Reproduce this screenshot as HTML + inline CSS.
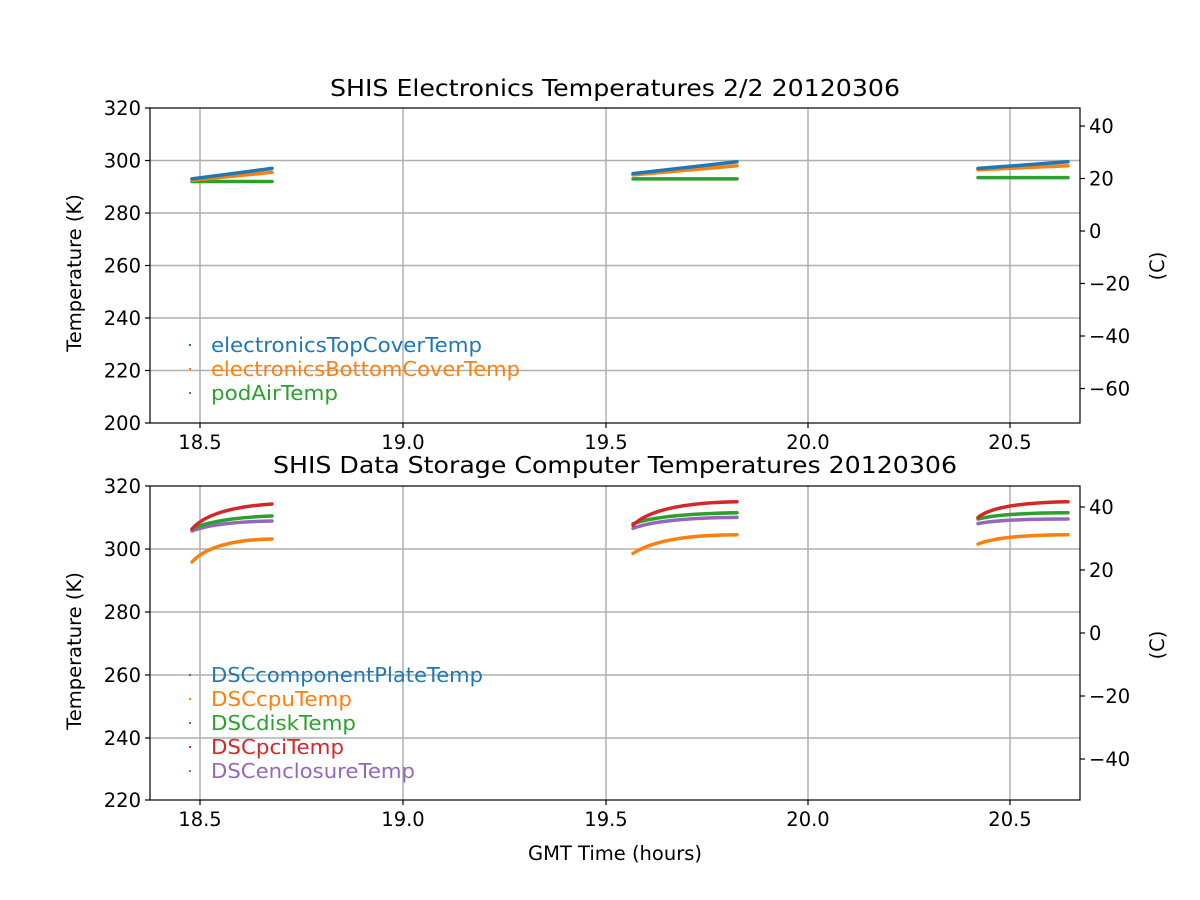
<!DOCTYPE html>
<html><head><style>body{margin:0;background:#fff}svg{display:block}text{font-family:"DejaVu Sans","Liberation Sans",sans-serif}</style></head><body>
<svg width="1200" height="900" viewBox="0 0 1200 900" xmlns="http://www.w3.org/2000/svg">
<rect width="1200" height="900" fill="#fff"/>
<g stroke="#b0b0b0" stroke-width="1.5">
<line x1="200" y1="108" x2="200" y2="423"/><line x1="403" y1="108" x2="403" y2="423"/><line x1="606" y1="108" x2="606" y2="423"/><line x1="808" y1="108" x2="808" y2="423"/><line x1="1010" y1="108" x2="1010" y2="423"/>
<line x1="150" y1="160.5" x2="1080" y2="160.5"/><line x1="150" y1="213" x2="1080" y2="213"/><line x1="150" y1="265.5" x2="1080" y2="265.5"/><line x1="150" y1="318" x2="1080" y2="318"/><line x1="150" y1="370.5" x2="1080" y2="370.5"/>
<line x1="200" y1="486" x2="200" y2="800"/><line x1="403" y1="486" x2="403" y2="800"/><line x1="606" y1="486" x2="606" y2="800"/><line x1="808" y1="486" x2="808" y2="800"/><line x1="1010" y1="486" x2="1010" y2="800"/>
<line x1="150" y1="549" x2="1080" y2="549"/><line x1="150" y1="612" x2="1080" y2="612"/><line x1="150" y1="675" x2="1080" y2="675"/><line x1="150" y1="738" x2="1080" y2="738"/>
</g>
<g fill="none" stroke-width="3.5" stroke-linecap="round">
<path d="M192 181.5 L272 181.5" stroke="#2ca02c"/>
<path d="M192 180.2 L272 172.3" stroke="#ff7f0e"/>
<path d="M192 178.9 L272 168.4" stroke="#1f77b4"/>
<path d="M633 178.9 L737 178.9" stroke="#2ca02c"/>
<path d="M633 174.9 L737 165.8" stroke="#ff7f0e"/>
<path d="M633 173.6 L737 161.8" stroke="#1f77b4"/>
<path d="M978 177.6 L1068 177.6" stroke="#2ca02c"/>
<path d="M978 169.7 L1068 165.8" stroke="#ff7f0e"/>
<path d="M978 168.4 L1068 161.8" stroke="#1f77b4"/>
<path d="M192 562 Q212 540 272 539" stroke="#ff7f0e"/>
<path d="M192 531 Q215 522 272 521" stroke="#9467bd"/>
<path d="M192 529 Q215 518 272 516" stroke="#2ca02c"/>
<path d="M192 529 Q210 508 272 504" stroke="#d62728"/>
<path d="M633 553.5 Q660 535 737 534.7" stroke="#ff7f0e"/>
<path d="M633 528.4 Q660 518 737 517.4" stroke="#9467bd"/>
<path d="M633 523.7 Q660 514 737 512.7" stroke="#2ca02c"/>
<path d="M633 525.3 Q655 503 737 501.7" stroke="#d62728"/>
<path d="M978 544.1 Q1000 535 1068 534.7" stroke="#ff7f0e"/>
<path d="M978 523.7 Q1000 519 1068 519" stroke="#9467bd"/>
<path d="M978 519 Q1000 513 1068 512.7" stroke="#2ca02c"/>
<path d="M978 517.4 Q995 503 1068 501.7" stroke="#d62728"/>
</g>
<g fill="none" stroke="#000" stroke-width="1.2">
<rect x="150" y="108" width="930" height="315"/>
<rect x="150" y="486" width="930" height="314"/>
</g>
<g stroke="#000" stroke-width="1.2">
<line x1="145" y1="108" x2="150" y2="108"/><line x1="145" y1="160.5" x2="150" y2="160.5"/><line x1="145" y1="213" x2="150" y2="213"/><line x1="145" y1="265.5" x2="150" y2="265.5"/><line x1="145" y1="318" x2="150" y2="318"/><line x1="145" y1="370.5" x2="150" y2="370.5"/><line x1="145" y1="423" x2="150" y2="423"/>
<line x1="200" y1="423" x2="200" y2="428"/><line x1="403" y1="423" x2="403" y2="428"/><line x1="606" y1="423" x2="606" y2="428"/><line x1="808" y1="423" x2="808" y2="428"/><line x1="1010" y1="423" x2="1010" y2="428"/>
<line x1="1080" y1="126" x2="1085" y2="126"/><line x1="1080" y1="178.5" x2="1085" y2="178.5"/><line x1="1080" y1="231" x2="1085" y2="231"/><line x1="1080" y1="283.5" x2="1085" y2="283.5"/><line x1="1080" y1="336" x2="1085" y2="336"/><line x1="1080" y1="388.5" x2="1085" y2="388.5"/>
<line x1="145" y1="486" x2="150" y2="486"/><line x1="145" y1="549" x2="150" y2="549"/><line x1="145" y1="612" x2="150" y2="612"/><line x1="145" y1="675" x2="150" y2="675"/><line x1="145" y1="738" x2="150" y2="738"/><line x1="145" y1="800" x2="150" y2="800"/>
<line x1="200" y1="800" x2="200" y2="805"/><line x1="403" y1="800" x2="403" y2="805"/><line x1="606" y1="800" x2="606" y2="805"/><line x1="808" y1="800" x2="808" y2="805"/><line x1="1010" y1="800" x2="1010" y2="805"/>
<line x1="1080" y1="507" x2="1085" y2="507"/><line x1="1080" y1="570" x2="1085" y2="570"/><line x1="1080" y1="633" x2="1085" y2="633"/><line x1="1080" y1="696" x2="1085" y2="696"/><line x1="1080" y1="759" x2="1085" y2="759"/>
</g>
<g font-size="19.5" fill="#000">
<g text-anchor="end">
<text x="141" y="115">320</text><text x="141" y="167.5">300</text><text x="141" y="220">280</text><text x="141" y="272.5">260</text><text x="141" y="325">240</text><text x="141" y="377.5">220</text><text x="141" y="430">200</text>
<text x="141" y="493">320</text><text x="141" y="556">300</text><text x="141" y="619">280</text><text x="141" y="682">260</text><text x="141" y="745">240</text><text x="141" y="807">220</text>
</g>
<g text-anchor="middle">
<text x="200" y="449">18.5</text><text x="403" y="449">19.0</text><text x="606" y="449">19.5</text><text x="808" y="449">20.0</text><text x="1010" y="449">20.5</text>
<text x="200" y="826">18.5</text><text x="403" y="826">19.0</text><text x="606" y="826">19.5</text><text x="808" y="826">20.0</text><text x="1010" y="826">20.5</text>
<text x="615" y="860">GMT Time (hours)</text>
</g>
<text x="330" y="96" font-size="23" textLength="570" lengthAdjust="spacingAndGlyphs">SHIS Electronics Temperatures 2/2 20120306</text>
<text x="273" y="473" font-size="23" textLength="684" lengthAdjust="spacingAndGlyphs">SHIS Data Storage Computer Temperatures 20120306</text>
<text x="1089" y="133">40</text><text x="1089" y="185.5">20</text><text x="1089" y="238">0</text><text x="1089" y="290.5">−20</text><text x="1089" y="343">−40</text><text x="1089" y="395.5">−60</text>
<text x="1089" y="514">40</text><text x="1089" y="577">20</text><text x="1089" y="640">0</text><text x="1089" y="703">−20</text><text x="1089" y="766">−40</text>
<text transform="translate(81 273) rotate(-90)" text-anchor="middle">Temperature (K)</text>
<text transform="translate(81 651) rotate(-90)" text-anchor="middle">Temperature (K)</text>
<text transform="translate(1164 266) rotate(-90)" text-anchor="middle">(C)</text>
<text transform="translate(1164 645) rotate(-90)" text-anchor="middle">(C)</text>
</g>
<g font-size="20.5">
<rect x="189" y="344" width="2" height="2" fill="#1f77b4"/><text x="211" y="352" fill="#1f77b4" textLength="271" lengthAdjust="spacingAndGlyphs">electronicsTopCoverTemp</text>
<rect x="189" y="368" width="2" height="2" fill="#ff7f0e"/><text x="211" y="376" fill="#ff7f0e" textLength="309" lengthAdjust="spacingAndGlyphs">electronicsBottomCoverTemp</text>
<rect x="189" y="392" width="2" height="2" fill="#2ca02c"/><text x="211" y="400" fill="#2ca02c" textLength="127" lengthAdjust="spacingAndGlyphs">podAirTemp</text>
<rect x="189" y="674" width="2" height="2" fill="#1f77b4"/><text x="211" y="682" fill="#1f77b4" textLength="272" lengthAdjust="spacingAndGlyphs">DSCcomponentPlateTemp</text>
<rect x="189" y="698" width="2" height="2" fill="#ff7f0e"/><text x="211" y="706" fill="#ff7f0e" textLength="141" lengthAdjust="spacingAndGlyphs">DSCcpuTemp</text>
<rect x="189" y="722" width="2" height="2" fill="#2ca02c"/><text x="211" y="730" fill="#2ca02c" textLength="145" lengthAdjust="spacingAndGlyphs">DSCdiskTemp</text>
<rect x="189" y="746" width="2" height="2" fill="#d62728"/><text x="211" y="754" fill="#d62728" textLength="133" lengthAdjust="spacingAndGlyphs">DSCpciTemp</text>
<rect x="189" y="770" width="2" height="2" fill="#9467bd"/><text x="211" y="778" fill="#9467bd" textLength="204" lengthAdjust="spacingAndGlyphs">DSCenclosureTemp</text>
</g>
</svg>
</body></html>
